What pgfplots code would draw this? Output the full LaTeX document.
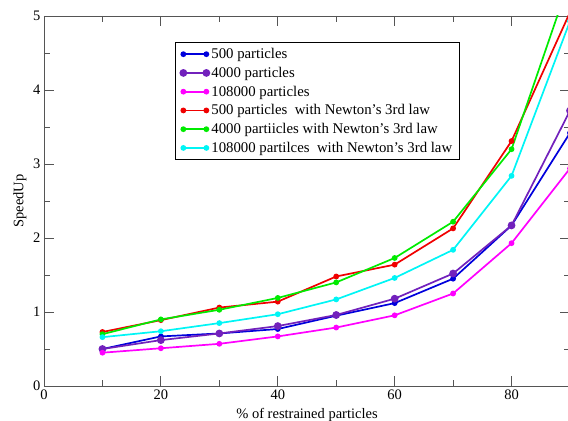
\documentclass[border=0pt]{standalone}
\usepackage{fontspec}
\setmainfont{Liberation Serif}
\usepackage{pgfplots}
\pgfplotsset{compat=1.18}
\definecolor{cblue}{RGB}{0,0,220}
\definecolor{cpurple}{RGB}{114,33,188}
\definecolor{cmag}{RGB}{255,0,255}
\definecolor{cred}{RGB}{240,0,0}
\definecolor{cgreen}{RGB}{0,235,0}
\definecolor{ccyan}{RGB}{0,245,245}
\definecolor{axgray}{RGB}{85,85,85}
\newcommand{\chartfont}{\fontsize{14.5bp}{16bp}\selectfont}
\newcommand{\legfont}{\fontsize{14.8bp}{16bp}\selectfont}
\begin{document}
\begin{tikzpicture}
\begin{axis}[
  scale only axis, width=526bp, height=370bp,
  xmin=0, xmax=90, ymin=0, ymax=5,
  xtick={0,20,40,60,80}, minor xtick={10,30,50,70},
  ytick={0,1,2,3,4,5}, minor ytick={0.5,1.5,2.5,3.5,4.5},
  tick align=inside, major tick length=10bp, minor tick length=6bp,
  axis line style={axgray, line width=0.9bp},
  every tick/.style={axgray, line width=0.9bp},
  /pgf/number format/assume math mode=true,
  ticklabel style={font=\chartfont},
  label style={font=\chartfont},
  xlabel={\% of restrained particles},
  ylabel={SpeedUp},
  xlabel style={yshift=-2bp},
  every axis plot/.append style={line width=1.7bp, mark=*, mark size=2bp},
  legend cell align=left,
  legend style={at={(rel axis cs:0.249,0.93)}, anchor=north west,
    draw=black, line width=0.8bp, font=\legfont, row sep=3bp,
    inner xsep=5bp, inner ysep=4bp},
  legend image code/.code={\draw[#1] plot coordinates {(0bp,0bp) (23bp,0bp)};},
]
\addplot[color=cblue, mark options={fill=cblue}] coordinates {
  (10,0.50) (20,0.67) (30,0.71) (40,0.77) (50,0.95) (60,1.12) (70,1.45) (80,2.17) (90,3.42)};
\addlegendentry{500 particles}
\addplot[color=cpurple, mark size=3bp, mark options={fill=cpurple}] coordinates {
  (10,0.50) (20,0.62) (30,0.71) (40,0.81) (50,0.96) (60,1.18) (70,1.52) (80,2.17) (90,3.72)};
\addlegendentry{4000 particles}
\addplot[color=cmag, mark options={fill=cmag}] coordinates {
  (10,0.45) (20,0.51) (30,0.57) (40,0.67) (50,0.79) (60,0.955) (70,1.25) (80,1.93) (90,2.94)};
\addlegendentry{108000 particles}
\addplot[color=cred, mark options={fill=cred}] coordinates {
  (10,0.73) (20,0.89) (30,1.06) (40,1.14) (50,1.48) (60,1.64) (70,2.13) (80,3.31) (90,5.05)};
\addlegendentry{500 particles\ \ with Newton’s 3rd law}
\addplot[color=cgreen, mark options={fill=cgreen}] coordinates {
  (10,0.70) (20,0.90) (30,1.03) (40,1.19) (50,1.40) (60,1.73) (70,2.22) (80,3.20) (90,5.5)};
\addlegendentry{4000 partiicles with Newton’s 3rd law}
\addplot[color=ccyan, mark options={fill=ccyan}] coordinates {
  (10,0.66) (20,0.74) (30,0.85) (40,0.97) (50,1.17) (60,1.46) (70,1.84) (80,2.84) (90,4.93)};
\addlegendentry{108000 partilces\ \ with Newton’s 3rd law}
\end{axis}
\pgfresetboundingbox
\useasboundingbox (-44bp,-35bp) rectangle (524bp,386bp);
\end{tikzpicture}
\end{document}
